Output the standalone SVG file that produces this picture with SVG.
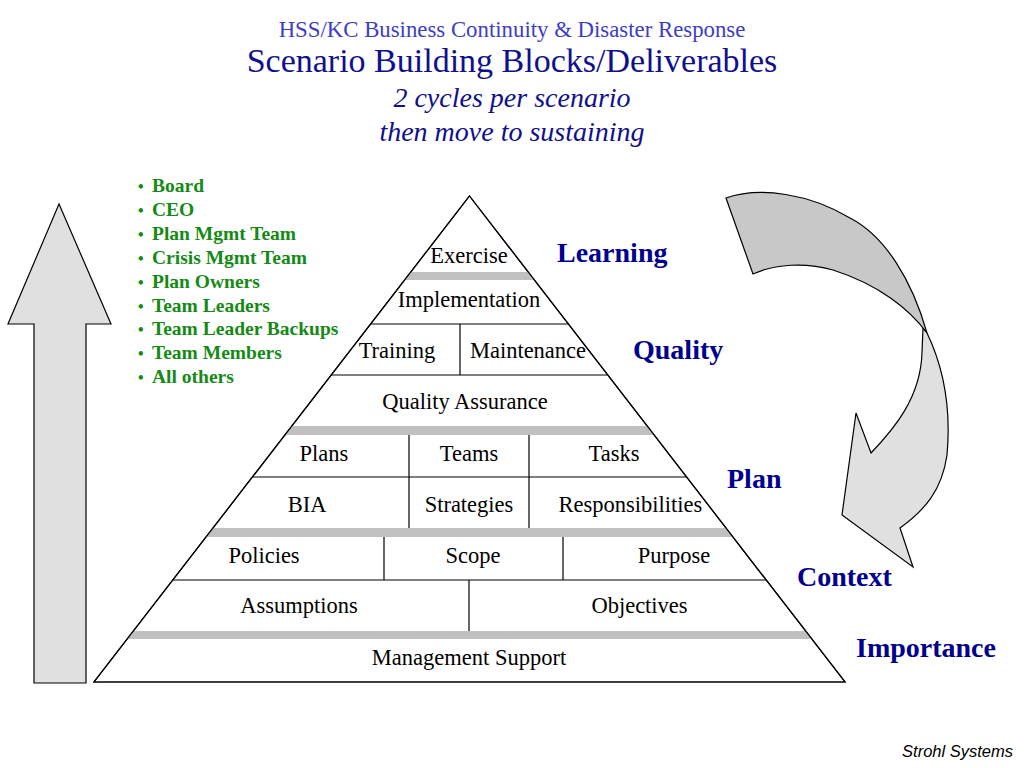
<svg xmlns="http://www.w3.org/2000/svg" width="1024" height="768" viewBox="0 0 1024 768">
<style>
.blk{font-family:"Liberation Serif","Times New Roman",serif;font-size:22.5px;fill:#000;text-anchor:middle}
.lvl{font-family:"Liberation Serif","Times New Roman",serif;font-size:28px;font-weight:bold;fill:#00008f}
.grn{font-family:"Liberation Serif","Times New Roman",serif;font-size:19.5px;font-weight:bold;fill:#158a15}
.bul{font-size:16px}
.band{fill:#c0c0c0;stroke:none}
.ln{stroke:#000;stroke-width:1.2;fill:none}
.arr{stroke:#000;stroke-width:1.2;stroke-linejoin:miter}
</style>
<rect width="1024" height="768" fill="#fff"/>
<g id="title" font-family="'Liberation Serif','Times New Roman',serif" text-anchor="middle">
<text x="512" y="37" font-size="22.8" fill="#3d3dc6">HSS/KC Business Continuity &amp; Disaster Response</text>
<text x="512" y="72" font-size="34" fill="#10108c">Scenario Building Blocks/Deliverables</text>
<text x="512" y="107" font-size="28" font-style="italic" fill="#10108c">2 cycles per scenario</text>
<text x="512" y="141" font-size="28" font-style="italic" fill="#10108c">then move to sustaining</text>
</g>
<g id="arrows">
<polygon id="up-arrow" class="arr" fill="#e0e0e0" points="59,204 111,324 86,324 86,683 34,683 34,324 8,324"/>
<g id="cycle-arrow">
<path class="arr" fill="#e0e0e0" d="M927,333 C940,360 952,400 947,455 C942,490 925,510 900,528 L913,567 L842,515 L856,413 L871,453 C893,430 921,398 922,352 L923,328 Z"/>
<path class="arr" fill="#c8c8c8" d="M726,198 C760,186 810,194 850,218 C885,236 912,280 927,333 C910,310 880,285 833,270 C805,262 775,264 753,274 Z"/>
</g>
</g>
<g id="pyramid">
<polygon points="469.5,196 845,682 94,682" fill="#fff" stroke="#000" stroke-width="1.2"/>
<polygon class="band" points="410.8,272 528.2,272 534.4,280 404.6,280"/>
<polygon class="band" points="291.8,426 647.2,426 654.1,435 284.9,435"/>
<polygon class="band" points="213,528 726,528 733,537 206,537"/>
<polygon class="band" points="133.4,631 805.6,631 811.8,639 127.2,639"/>
<line class="ln" x1="370.6" y1="324" x2="568.4" y2="324"/>
<line class="ln" x1="331.2" y1="375" x2="607.8" y2="375"/>
<line class="ln" x1="252.4" y1="477" x2="686.6" y2="477"/>
<line class="ln" x1="172.8" y1="580" x2="766.2" y2="580"/>
<line class="ln" x1="460" y1="324" x2="460" y2="375"/>
<line class="ln" x1="409" y1="435" x2="409" y2="528"/>
<line class="ln" x1="529" y1="435" x2="529" y2="528"/>
<line class="ln" x1="384" y1="537" x2="384" y2="580"/>
<line class="ln" x1="563" y1="537" x2="563" y2="580"/>
<line class="ln" x1="469" y1="580" x2="469" y2="631"/>
<polygon points="469.5,196 845,682 94,682" fill="none" stroke="#000" stroke-width="1.2"/>
</g>
<g id="n-exercise"><text class="blk" x="469" y="263">Exercise</text></g>
<g id="n-implementation"><text class="blk" x="469" y="307">Implementation</text></g>
<g id="n-training"><text class="blk" x="397" y="358">Training</text></g>
<g id="n-maintenance"><text class="blk" x="528" y="358">Maintenance</text></g>
<g id="n-qa"><text class="blk" x="465" y="409">Quality Assurance</text></g>
<g id="n-plans"><text class="blk" x="324" y="461">Plans</text></g>
<g id="n-teams"><text class="blk" x="469" y="461">Teams</text></g>
<g id="n-tasks"><text class="blk" x="614" y="461">Tasks</text></g>
<g id="n-bia"><text class="blk" x="307" y="512">BIA</text></g>
<g id="n-strategies"><text class="blk" x="469" y="512">Strategies</text></g>
<g id="n-responsibilities"><text class="blk" x="630.5" y="512">Responsibilities</text></g>
<g id="n-policies"><text class="blk" x="264" y="563">Policies</text></g>
<g id="n-scope"><text class="blk" x="473" y="563">Scope</text></g>
<g id="n-purpose"><text class="blk" x="674" y="563">Purpose</text></g>
<g id="n-assumptions"><text class="blk" x="299" y="613">Assumptions</text></g>
<g id="n-objectives"><text class="blk" x="639.5" y="613">Objectives</text></g>
<g id="n-mgmt"><text class="blk" x="469" y="665">Management Support</text></g>
<g id="levels">
<text class="lvl" x="557" y="262">Learning</text>
<text class="lvl" x="633" y="359">Quality</text>
<text class="lvl" x="727" y="488">Plan</text>
<text class="lvl" x="797" y="586">Context</text>
<text class="lvl" x="856" y="657">Importance</text>
</g>
<g id="audience" class="grn">
<text x="138" y="192"><tspan class="bul">•</tspan><tspan x="152">Board</tspan></text>
<text x="138" y="216"><tspan class="bul">•</tspan><tspan x="152">CEO</tspan></text>
<text x="138" y="240"><tspan class="bul">•</tspan><tspan x="152">Plan Mgmt Team</tspan></text>
<text x="138" y="264"><tspan class="bul">•</tspan><tspan x="152">Crisis Mgmt Team</tspan></text>
<text x="138" y="288"><tspan class="bul">•</tspan><tspan x="152">Plan Owners</tspan></text>
<text x="138" y="312"><tspan class="bul">•</tspan><tspan x="152">Team Leaders</tspan></text>
<text x="138" y="335"><tspan class="bul">•</tspan><tspan x="152">Team Leader Backups</tspan></text>
<text x="138" y="359"><tspan class="bul">•</tspan><tspan x="152">Team Members</tspan></text>
<text x="138" y="383"><tspan class="bul">•</tspan><tspan x="152">All others</tspan></text>
</g>
<text x="1013" y="757" font-family="'Liberation Sans',Arial,sans-serif" font-size="16.5" font-style="italic" text-anchor="end" fill="#000">Strohl Systems</text>
</svg>
